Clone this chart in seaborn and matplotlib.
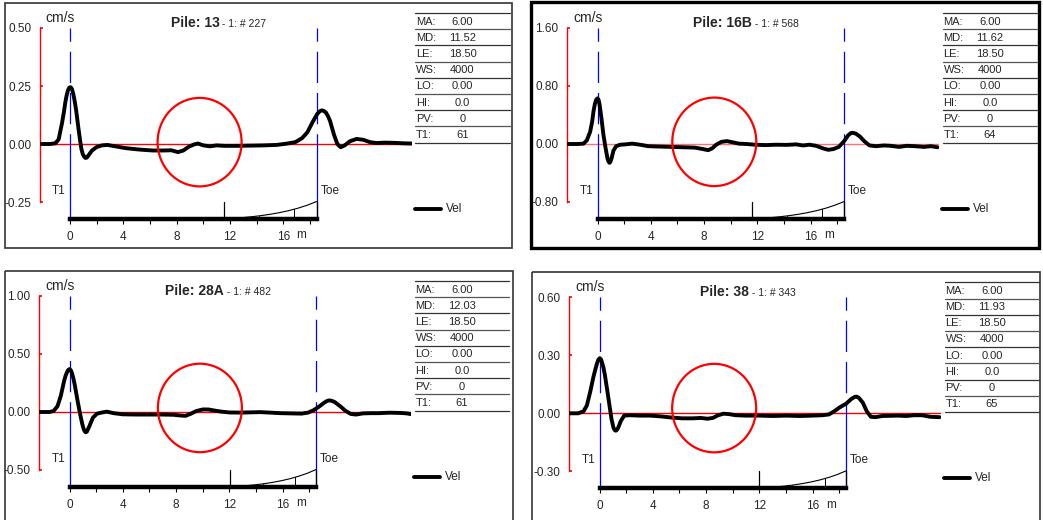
import numpy as np
import pandas as pd
import matplotlib
matplotlib.use("Agg")
import matplotlib.pyplot as plt
import seaborn as sns
from matplotlib.patches import Ellipse, Rectangle
from matplotlib.offsetbox import TextArea, HPacker, AnnotationBbox

# ---------------- data ----------------
pile_names = ["13", "16B", "28A", "38"]
record_ids = ["227", "568", "482", "343"]
y_steps = [0.25, 0.80, 0.50, 0.30]
y_ticklabels = [["0.50", "0.25", "0.00", "-0.25"],
                ["1.60", "0.80", "0.00", "-0.80"],
                ["1.00", "0.50", "0.00", "-0.50"],
                ["0.60", "0.30", "0.00", "-0.30"]]
x_tick_major = [0, 4, 8, 12, 16]
x_tick_minor = [2, 6, 10, 14, 18]

table_keys = ["MA:", "MD:", "LE:", "WS:", "LO:", "HI:", "PV:", "T1:"]
ma_vals = ["6.00", "6.00", "6.00", "6.00"]
md_vals = [11.52, 11.62, 12.03, 11.93]
le_vals = [18.50, 18.50, 18.50, 18.50]
ws_vals = ["4000", "4000", "4000", "4000"]
lo_vals = ["0.00", "0.00", "0.00", "0.00"]
hi_vals = ["0.0", "0.0", "0.0", "0.0"]
pv_vals = ["0", "0", "0", "0"]
t1_vals = ["61", "64", "61", "65"]

circle_x = [9.72, 8.76, 9.78, 8.60]
circle_v = [0.008, 0.03, 0.035, 0.027]

# amplification curve shape (fraction of span, fraction of height)
amp_t = [0.0, 0.1, 0.2, 0.3, 0.4, 0.5, 0.6, 0.7, 0.8, 0.9, 1.0]
amp_frac = [0.0, 0.034, 0.077, 0.129, 0.192, 0.269, 0.363, 0.478, 0.619, 0.790, 1.0]
amp_tick_t = [0.38, 0.76]

x1 = [-2.25, -1.5, -1.1, -0.85, -0.6, -0.45, -0.35, -0.25, -0.15, -0.05, 0.05, 0.15, 0.25, 0.35, 0.45,
      0.55, 0.65, 0.75, 0.85, 0.95, 1.05, 1.15, 1.25, 1.4,
      1.65, 2.0, 2.4, 2.8, 3.4, 4.2, 5.2, 6.2, 7.0, 7.6, 8.1, 8.5, 8.9, 9.3, 9.6, 10.0, 10.5, 11.0,
      11.6, 12.5, 13.5, 14.5, 15.5, 16.3, 16.9, 17.4, 17.8, 18.2, 18.55, 18.75, 18.9, 19.05, 19.2,
      19.35, 19.5, 19.8, 20.05, 20.3, 20.6, 21.0, 21.5, 22.0, 22.5, 23.0, 23.6, 24.3, 25.0, 25.65]
v1 = [0.0, 0.0, 0.003, 0.02, 0.09, 0.14, 0.18, 0.21, 0.232, 0.243, 0.245, 0.236, 0.215, 0.185, 0.15,
      0.105, 0.06, 0.018, -0.02, -0.042, -0.054, -0.06, -0.059, -0.048,
      -0.028, -0.013, -0.006, -0.004, -0.01, -0.018, -0.024, -0.028, -0.028, -0.027, -0.035, -0.028,
      -0.012, -0.002, 0.002, -0.006, -0.01, -0.006, -0.008, -0.008, -0.007, -0.006, -0.004, 0.002,
      0.008, 0.025, 0.05, 0.095, 0.13, 0.142, 0.145, 0.142, 0.135, 0.12, 0.1, 0.04, 0.0, -0.014,
      -0.006, 0.012, 0.022, 0.018, 0.008, 0.004, 0.006, 0.005, 0.003, 0.002]

x2 = [-2.4, -1.5, -1.05, -0.8, -0.55, -0.4, -0.3, -0.2, -0.1, 0.0, 0.08, 0.15, 0.22, 0.3, 0.45, 0.6,
      0.75, 0.82, 0.9, 0.97, 1.05, 1.2,
      1.4, 1.7, 2.1, 2.6, 3.2, 3.8, 4.6, 5.5, 6.5, 7.3, 7.9, 8.3, 8.6, 8.9, 9.3, 9.7, 10.1, 10.6, 11.2,
      11.8, 12.6, 13.4, 14.2, 14.9, 15.4, 15.9, 16.4, 16.9, 17.3, 17.7, 18.1, 18.5, 18.8, 19.0, 19.1,
      19.25, 19.4, 19.7, 20.0, 20.4, 20.9, 21.5, 22.0, 22.6, 23.2, 23.8, 24.5, 25.0, 25.5]
v2 = [0.0, 0.0, 0.005, 0.05, 0.17, 0.31, 0.45, 0.55, 0.61, 0.63, 0.61, 0.55, 0.46, 0.35, 0.12, -0.05,
      -0.2, -0.24, -0.26, -0.245, -0.2, -0.09,
      -0.03, -0.01, -0.005, 0.005, -0.01, -0.03, -0.035, -0.04, -0.045, -0.05, -0.07, -0.085, -0.06,
      -0.01, 0.03, 0.04, 0.025, 0.005, 0.0, -0.01, -0.015, -0.01, -0.012, -0.005, -0.02, -0.01, -0.025,
      -0.06, -0.08, -0.07, -0.04, 0.04, 0.12, 0.15, 0.155, 0.15, 0.14, 0.1, 0.04, -0.02, -0.03, -0.02,
      -0.025, -0.04, -0.025, -0.03, -0.04, -0.03, -0.045]

x3 = [-2.25, -1.5, -1.2, -0.9, -0.65, -0.4, -0.3, -0.2, -0.1, 0.0, 0.1, 0.2, 0.3, 0.4, 0.6, 0.8, 0.95,
      1.07, 1.15, 1.22, 1.3, 1.5, 1.75,
      2.05, 2.4, 2.8, 3.3, 4.0, 5.0, 6.0, 7.0, 7.8, 8.3, 8.7, 9.1, 9.5, 10.0, 10.4, 10.9, 11.4, 12.0,
      12.8, 13.6, 14.3, 15.0, 15.8, 16.6, 17.4, 17.9, 18.3, 18.7, 19.1, 19.35, 19.5, 19.7, 19.9, 20.3,
      20.7, 21.1, 21.5, 22.0, 22.6, 23.2, 24.0, 24.8, 25.3, 25.7]
v3 = [0.0, 0.0, 0.008, 0.05, 0.14, 0.27, 0.31, 0.34, 0.362, 0.37, 0.36, 0.33, 0.285, 0.23, 0.1, -0.02,
      -0.1, -0.15, -0.168, -0.175, -0.17, -0.12, -0.05,
      -0.015, -0.005, 0.003, -0.01, -0.02, -0.022, -0.022, -0.022, -0.024, -0.03, -0.033, -0.015,
      0.008, 0.022, 0.022, 0.012, 0.003, -0.004, -0.005, -0.003, -0.001, -0.005, -0.01, -0.012, -0.014,
      -0.005, 0.015, 0.045, 0.08, 0.097, 0.1, 0.095, 0.085, 0.05, 0.01, -0.017, -0.022, -0.012, -0.01,
      -0.01, -0.006, -0.008, -0.012, -0.02]

x4 = [-2.4, -1.6, -1.2, -0.95, -0.7, -0.45, -0.3, -0.2, -0.08, 0.02, 0.12, 0.2, 0.3, 0.4, 0.6, 0.75,
      0.9, 1.05, 1.14, 1.22, 1.3, 1.4,
      1.6, 1.85, 2.3, 3.0, 3.8, 4.6, 5.4, 6.2, 7.0, 7.6, 8.1, 8.5, 8.9, 9.3, 9.7, 10.2, 11.0, 12.0,
      13.0, 14.0, 15.0, 16.0, 16.7, 17.2, 17.6, 18.0, 18.5, 18.9, 19.15, 19.3, 19.45, 19.75, 20.05,
      20.35, 20.7, 21.2, 21.8, 22.4, 23.0, 23.6, 24.2, 24.8, 25.5]
v4 = [0.0, 0.0, 0.01, 0.04, 0.11, 0.19, 0.23, 0.255, 0.278, 0.285, 0.278, 0.26, 0.235, 0.2, 0.11, 0.04,
      -0.03, -0.075, -0.087, -0.09, -0.086, -0.075,
      -0.04, -0.012, -0.01, -0.012, -0.012, -0.016, -0.022, -0.026, -0.026, -0.024, -0.028,
      -0.024, -0.01, -0.002, -0.004, -0.01, -0.012, -0.012, -0.014, -0.012, -0.014, -0.012, -0.01,
      -0.006, 0.01, 0.03, 0.05, 0.075, 0.085, 0.086, 0.08, 0.055, 0.01, -0.018, -0.02, -0.014, -0.013,
      -0.012, -0.014, -0.01, -0.01, -0.018, -0.02]

signals_x = [x1, x2, x3, x4]
signals_v = [v1, v2, v3, v4]

# ---------------- layout (pixels) ----------------
W, H = 1043, 520
anchors = [(39.5, 28.0), (567.0, 28.0), (39.0, 296.0), (569.0, 297.3)]
frames = [(5, 3, 507, 245, 1.2, "#333333"), (531, 2, 508, 246, 2.4, "#000000"),
          (5, 271, 508, 260, 1.2, "#333333"), (532, 272, 508, 260, 1.2, "#333333")]
AX_W, AX_H = 372.0, 191.0
T1_OFF = 30.5
PPM = 13.333          # pixels per metre
PPT = 58.0            # pixels per y tick step

sns.set_style("white")
plt.rcParams["font.family"] = ["Liberation Sans", "DejaVu Sans"]
plt.rcParams["axes.unicode_minus"] = False

fig = plt.figure(figsize=(W / 100, H / 100), dpi=100)
fig.patch.set_facecolor("white")

ov = fig.add_axes([0, 0, 1, 1])
ov.set_xlim(0, W)
ov.set_ylim(H, 0)
ov.axis("off")
ov.patch.set_alpha(0)

for (fx, fy, fw, fh, flw, fc) in frames:
    ov.add_patch(Rectangle((fx, fy), fw, fh, fill=False, lw=flw, ec=fc, zorder=1))

for i in range(4):
    axp, ayp = anchors[i]
    step = y_steps[i]
    ymax = 2 * step
    ymin = ymax - AX_H / PPT * step
    le = le_vals[i]
    md = md_vals[i]

    ax = fig.add_axes([axp / W, 1 - (ayp + AX_H) / H, AX_W / W, AX_H / H])
    ax.set_facecolor("none")
    ax.set_xlim(-T1_OFF / PPM, (AX_W - T1_OFF) / PPM)
    ax.set_ylim(ymin, ymax)

    # zero line
    zc = "#ff7070" if i == 1 else "#ff0000"
    ax.axhline(0, color=zc, lw=1.0, zorder=1)

    # blue marker lines at T1 and Toe
    y_dash_end = ymax - 137.0 / PPT * step
    for xv in (0.0, le):
        ax.plot([xv, xv], [y_dash_end, ymax], color="#0000ff", lw=0.9,
                linestyle=(0, (25, 8)), zorder=2, clip_on=False)
        ax.plot([xv, xv], [ymin, y_dash_end], color="#0000ff", lw=0.9, zorder=2, clip_on=False)

    # velocity signal
    df = pd.DataFrame({"x": signals_x[i], "v": signals_v[i]})
    sns.lineplot(data=df, x="x", y="v", ax=ax, color="black", linewidth=2.8,
                 estimator=None, sort=False, zorder=4, legend=False,
                 solid_joinstyle="round", solid_capstyle="round")
    ax.set_xlabel("")
    ax.set_ylabel("")

    # red circle
    ax.add_patch(Ellipse((circle_x[i], circle_v[i]), width=84.0 / PPM, height=88.5 / PPT * step,
                         fill=False, ec="#ff0000", lw=1.6, zorder=5))

    # amplification curve
    amp_h = 17.5 / PPT * step
    ax_x = [md + t * (le - md) for t in amp_t]
    ax_y = [ymin + f * amp_h for f in amp_frac]
    ax.plot(ax_x, ax_y, color="black", lw=0.8, zorder=3, clip_on=False)
    ax.plot([md, md], [ymin, ymin + amp_h], color="black", lw=0.9, zorder=3, clip_on=False)
    ax.plot([le, le], [ymin, ymin + amp_h], color="black", lw=0.9, zorder=3, clip_on=False)
    for tt in amp_tick_t:
        xt = md + tt * (le - md)
        ft = np.interp(tt, amp_t, amp_frac)
        ax.plot([xt, xt], [ymin, ymin + ft * amp_h], color="black", lw=0.7, zorder=3, clip_on=False)

    # spines / ticks
    ax.spines["top"].set_visible(False)
    ax.spines["right"].set_visible(False)
    ax.spines["left"].set_color("#ff0000")
    ax.spines["left"].set_linewidth(1.0)
    ax.spines["left"].set_bounds(-step, 2 * step)
    ax.spines["bottom"].set_color("black")
    ax.spines["bottom"].set_linewidth(3.2)
    ax.spines["bottom"].set_bounds(0, le)
    ax.spines["bottom"].set_zorder(6)

    ax.set_yticks([2 * step, step, 0, -step])
    ax.set_yticklabels(y_ticklabels[i])
    ax.tick_params(axis="y", direction="in", length=2.5, width=1.2, color="#ff0000",
                   labelsize=8.5, pad=6, left=True)
    ax.set_xticks(x_tick_major)
    ax.set_xticks(x_tick_minor, minor=True)
    ax.set_xticklabels([str(v) for v in x_tick_major])
    ax.tick_params(axis="x", which="both", direction="out", length=3.5, width=0.8,
                   color="black", labelsize=8.5, pad=5, bottom=True)
    ax.grid(False)

    # texts in pixel coordinates
    t1_px = axp + T1_OFF
    toe_px = t1_px + le * PPM
    ov.text(axp + 6, ayp - 10, "cm/s", fontsize=10, ha="left", va="center")
    ta1 = TextArea(f"Pile: {pile_names[i]}", textprops=dict(size=10, weight="bold"))
    ta2 = TextArea(f" - 1: # {record_ids[i]}", textprops=dict(size=7.5))
    box = HPacker(children=[ta1, ta2], align="baseline", pad=0, sep=0)
    ab = AnnotationBbox(box, (axp + 179, ayp - 5), xycoords="data", frameon=False,
                        box_alignment=(0.5, 0.5), pad=0)
    ov.add_artist(ab)
    ov.text(t1_px - 4, ayp + 163, "T1", fontsize=8.5, ha="right", va="center")
    ov.text(toe_px + 4, ayp + 163, "Toe", fontsize=8.5, ha="left", va="center")
    ov.text(t1_px + 231.5, ayp + 207.5, "m", fontsize=8.5, ha="center", va="center")

    # info table
    vals = [ma_vals[i], f"{md:.2f}", f"{le:.2f}", ws_vals[i], lo_vals[i], hi_vals[i], pv_vals[i], t1_vals[i]]
    tx0, tx1 = axp + 375.5, axp + 470
    ty0, dy = ayp - 15, 16.2
    for r in range(9):
        ov.plot([tx0, tx1], [ty0 + r * dy, ty0 + r * dy], color="#333333" if r % 2 == 0 else "#555555",
                lw=0.9, zorder=2)
    for r, (k, v) in enumerate(zip(table_keys, vals)):
        yc = ty0 + r * dy + dy / 2 + 0.5
        ov.text(tx0 + 1, yc, k, fontsize=8, ha="left", va="center")
        ov.text(axp + 423, yc, v, fontsize=8, ha="center", va="center")

    # legend
    ov.plot([axp + 375, axp + 401], [ayp + 181, ayp + 181], color="black", lw=2.8, zorder=2)
    ov.text(axp + 406, ayp + 181, "Vel", fontsize=8.5, ha="left", va="center")

fig.savefig("out.png", dpi=100, facecolor="white")
